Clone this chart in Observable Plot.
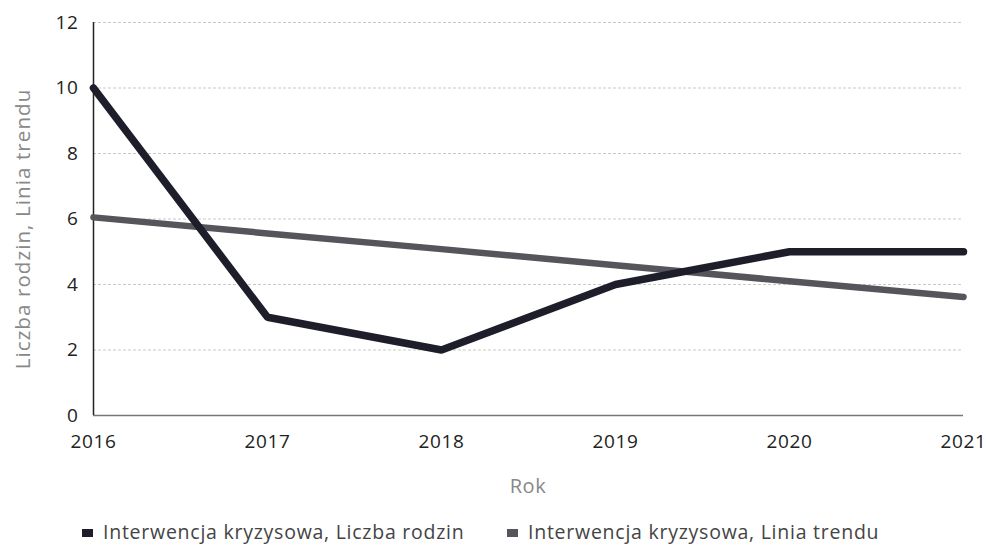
<!DOCTYPE html>
<html><head><meta charset="utf-8">
<script src="https://cdn.jsdelivr.net/npm/d3@7"></script>
<script src="https://cdn.jsdelivr.net/npm/@observablehq/plot@0.6"></script>
<style>
body{margin:0;background:#fff;font-family:"Open Sans",sans-serif;position:relative;width:986px;height:547px;overflow:hidden}
#legend{position:absolute;left:0;top:518px;width:986px;height:26px;font-size:19.5px;color:#444;letter-spacing:0.75px}
#legend .item{position:absolute;top:0;white-space:nowrap}
#legend span.sw{display:inline-block;width:11px;height:8px;margin-right:10px;vertical-align:middle;position:relative;top:-1px}
</style></head><body>
<div id="chart"></div>
<div id="legend"></div>
<script>
const years = [2016, 2017, 2018, 2019, 2020, 2021];
const families = [10, 3, 2, 4, 5, 5];
const trend = [6.05, 5.56, 5.08, 4.59, 4.10, 3.62];
const seriesNames = ["Interwencja kryzysowa, Liczba rodzin", "Interwencja kryzysowa, Linia trendu"];
const colors = ["#1e1e2a", "#55555b"];
const yTicks = [0, 2, 4, 6, 8, 10, 12];
const xTitle = "Rok";
const yTitle = "Liczba rodzin, Linia trendu";

const rows = [];
years.forEach((y, i) => rows.push({year: y, value: families[i], s: seriesNames[0]}));
years.forEach((y, i) => rows.push({year: y, value: trend[i], s: seriesNames[1]}));

const W = 986, H = 505, mL = 93, mR = 23, mT = 22, mB = 90;
const plot = Plot.plot({
  width: W, height: H,
  marginLeft: mL, marginRight: mR, marginTop: mT, marginBottom: mB,
  style: {fontFamily: "Open Sans", fontSize: "19px", color: "#222", background: "#fff", overflow: "visible"},
  x: {domain: [2016, 2021], ticks: years, tickFormat: d => String(d), label: null, tickSize: 0, tickPadding: 19},
  y: {domain: [0, 12], ticks: yTicks, label: null, tickSize: 0, tickPadding: 15},
  marks: [
    Plot.gridY(yTicks.filter(d => d > 0), {stroke: "#bbb", strokeOpacity: 1, strokeDasharray: "3,2", strokeWidth: 0.8}),
    Plot.ruleY([0], {stroke: "#777", strokeWidth: 1.5}),
    Plot.ruleX([2016], {stroke: "#222", strokeWidth: 1.5}),
    Plot.line(rows.filter(r => r.s === seriesNames[1]), {x: "year", y: "value", stroke: colors[1], strokeWidth: 6.5}),
    Plot.line(rows.filter(r => r.s === seriesNames[0]), {x: "year", y: "value", stroke: colors[0], strokeWidth: 7.5, strokeLinejoin: "miter"}),
  ]
});
document.getElementById("chart").appendChild(plot);
const svg = d3.select(plot);
svg.selectAll("[aria-label='x-axis tick label'] text, [aria-label='y-axis tick label'] text").style("letter-spacing", "0.6px");
svg.append("text")
  .attr("x", (mL + W - mR) / 2).attr("y", 486).attr("dy", "0.35em")
  .attr("text-anchor", "middle").attr("fill", "#888")
  .style("font-size", "20px").style("letter-spacing", "0.6px").text(xTitle);
svg.append("text")
  .attr("transform", "translate(23,229) rotate(-90)").attr("dy", "0.35em")
  .attr("text-anchor", "middle").attr("fill", "#888")
  .style("font-size", "20.5px").style("letter-spacing", "1.1px").text(yTitle);

const lg = d3.select("#legend");
const lefts = [82, 507];
seriesNames.forEach((n, i) => {
  const it = lg.append("div").attr("class", "item").style("left", lefts[i] + "px");
  it.append("span").attr("class", "sw").style("background", colors[i]);
  it.append("span").text(n);
});
</script>
</body></html>
